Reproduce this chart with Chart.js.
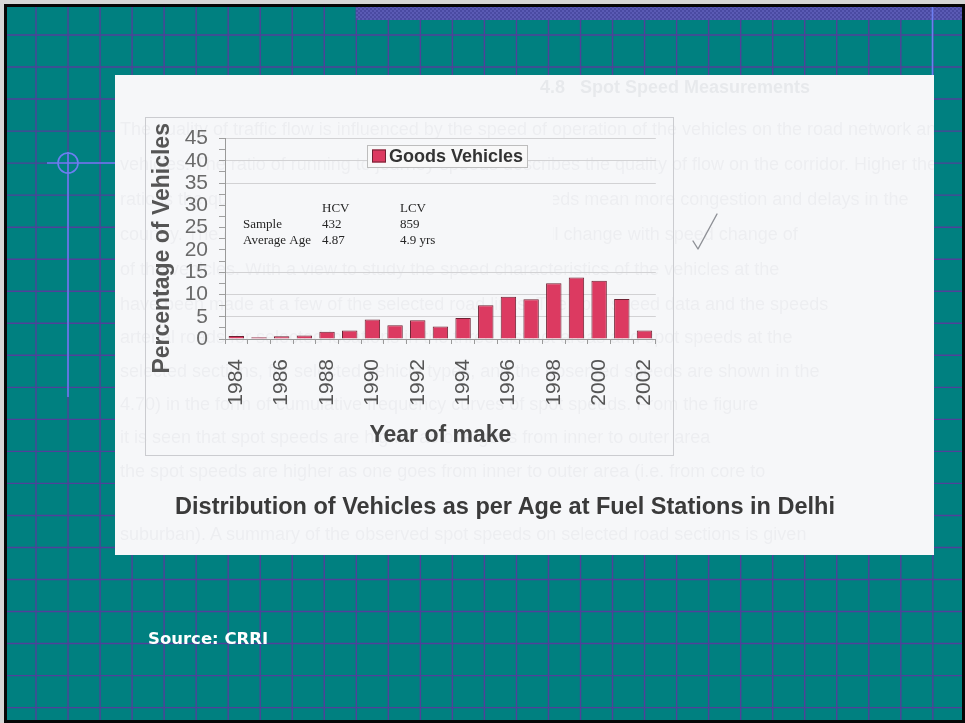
<!DOCTYPE html>
<html>
<head>
<meta charset="utf-8">
<title>Distribution of Vehicles as per Age at Fuel Stations in Delhi</title>
<script src="https://cdn.jsdelivr.net/npm/chart.js@4.4.1/dist/chart.umd.min.js"></script>
<style>
  html, body { margin: 0; padding: 0; }
  body { width: 965px; height: 723px; position: relative; overflow: hidden; background: #d6d6d6;
         font-family: "Liberation Sans", Arial, sans-serif; }
  #bg { position: absolute; left: 0; top: 0; }
  #sheet { position: absolute; left: 115px; top: 75px; width: 819px; height: 480px;
           background: #f6f7f9; overflow: hidden; }
  .ghost { position: absolute; left: 5px; white-space: nowrap; font-size: 18px;
           color: rgba(40, 50, 75, 0.045); filter: blur(0.6px); }
  .ghost.head { font-weight: bold; left: 425px; color: rgba(40, 50, 75, 0.07); }
  #plot { position: absolute; left: 25px; top: 37px; filter: blur(0.45px); }
  #tick { position: absolute; left: 570px; top: 128px; }
  #caption { position: absolute; left: 0; width: 780px; top: 418px; text-align: center;
             font-size: 23.5px; font-weight: bold; color: #3a3a3a; filter: blur(0.4px); }
  #source { position: absolute; left: 148px; top: 629px; color: #ffffff;
            font-family: "DejaVu Sans", sans-serif; font-weight: bold; font-size: 16.5px; }
</style>
</head>
<body>
<canvas id="bg" width="965" height="723"></canvas>
<div id="sheet">
  <div class="ghost head" style="top:2px">4.8&nbsp;&nbsp;&nbsp;Spot Speed Measurements</div>
  <div class="ghost" style="top:44px">The quality of traffic flow is influenced by the speed of operation of the vehicles on the road network and the</div>
  <div class="ghost" style="top:79px">vehicles. The ratio of running to journey speeds describes the quality of flow on the corridor. Higher the ratio</div>
  <div class="ghost" style="top:114px">ratio is the quality of flow. For urban roads, slower speeds mean more congestion and delays in the</div>
  <div class="ghost" style="top:149px">country. The quantum of pollution in the ambient air will change with speed change of</div>
  <div class="ghost" style="top:184px">of the vehicles. With a view to study the speed characteristics of the vehicles at the</div>
  <div class="ghost" style="top:219px">have been made at a few of the selected road links. The spot speed data and the speeds</div>
  <div class="ghost" style="top:252px">arterial roads for selected locations in the three distinct areas and spot speeds at the</div>
  <div class="ghost" style="top:286px">selected sections, for selected vehicle types, and the observed speeds are shown in the</div>
  <div class="ghost" style="top:319px">4.70) in the form of cumulative frequency curves of spot speeds. From the figure</div>
  <div class="ghost" style="top:352px">it is seen that spot speeds are higher as one goes from inner to outer area</div>
  <div class="ghost" style="top:386px">the spot speeds are higher as one goes from inner to outer area (i.e. from core to</div>
  <div class="ghost" style="top:449px">suburban). A summary of the observed spot speeds on selected road sections is given</div>
  <div id="plot"><canvas id="chart" width="545" height="348"></canvas></div>
  <svg id="tick" width="40" height="50" viewBox="0 0 40 50">
    <polyline points="8,38 13,46 32,11" fill="none" stroke="#8e9096" stroke-width="1.4"
              stroke-linecap="round" stroke-linejoin="round"/>
  </svg>
  <div id="caption">Distribution of Vehicles as per Age at Fuel Stations in Delhi</div>
</div>
<div id="source">Source: CRRI</div>

<script>
// ---- data ----
const years = ['1984', '1985', '1986', '1987', '1988', '1989', '1990', '1991', '1992', '1993',
               '1994', '1995', '1996', '1997', '1998', '1999', '2000', '2001', '2002'];
const goodsVehiclesPct = [0.7, 0.4, 0.6, 0.8, 1.6, 1.9, 4.4, 3.1, 4.2, 2.8,
                          4.7, 7.6, 9.5, 8.9, 12.5, 13.8, 13.1, 9.0, 1.9];
const yTickValues = [0, 5, 10, 15, 20, 25, 30, 35, 40, 45];
const statColumns = ['HCV', 'LCV'];
const statSample = ['432', '859'];
const statAverageAge = ['4.87', '4.9 yrs'];

// ---- slide background: teal sheet with a purple grid ----
(function drawBackground() {
  const c = document.getElementById('bg');
  const g = c.getContext('2d');
  g.fillStyle = '#d6d6d6'; g.fillRect(0, 0, 965, 723);
  g.fillStyle = '#060606'; g.fillRect(4, 4, 961, 719);
  g.fillStyle = '#008080'; g.fillRect(7, 7, 955, 713);

  g.strokeStyle = '#51409a'; g.lineWidth = 1.4;
  for (let k = 0; k <= 28; k++) {
    const x = 36 + k * 32.03;
    g.beginPath(); g.moveTo(x, 7); g.lineTo(x, 720); g.stroke();
  }
  for (let k = 0; k <= 21; k++) {
    const y = 35 + k * 32.03;
    g.beginPath(); g.moveTo(7, y); g.lineTo(962, y); g.stroke();
  }

  // dotted band across the top right
  const p = document.createElement('canvas'); p.width = 4; p.height = 4;
  const pg = p.getContext('2d');
  pg.fillStyle = '#4a4aa2'; pg.fillRect(0, 0, 4, 4);
  pg.fillStyle = '#5a5ab4'; pg.fillRect(0, 0, 2, 2); pg.fillRect(2, 2, 2, 2);
  g.fillStyle = g.createPattern(p, 'repeat');
  g.fillRect(356, 7, 606, 13);

  // crosshair marker and guide lines
  g.strokeStyle = '#6c7ef2'; g.lineWidth = 1.6;
  g.beginPath(); g.arc(68, 163, 10, 0, Math.PI * 2); g.stroke();
  g.beginPath(); g.moveTo(47, 163); g.lineTo(116, 163); g.stroke();
  g.beginPath(); g.moveTo(68, 152); g.lineTo(68, 397); g.stroke();
  g.beginPath(); g.moveTo(932.5, 7); g.lineTo(932.5, 76); g.stroke();
})();

// ---- chart ----
const hiddenGrid = new Set([20, 25, 30]);
const axisFont = '"Liberation Sans", Arial, sans-serif';

const panelPlugin = {
  id: 'panelPlugin',
  beforeDraw(chart) {
    const { ctx } = chart;
    ctx.save();
    ctx.strokeStyle = '#cbccd0';
    ctx.lineWidth = 1;
    ctx.strokeRect(5.5, 5.5, 528, 338);
    ctx.restore();
  },
  beforeDatasetsDraw(chart) {
    // box holding the sample statistics sits over the grid
    const { ctx, chartArea, scales: { y } } = chart;
    const top = y.getPixelForValue(33);
    const bottom = y.getPixelForValue(17);
    ctx.save();
    ctx.fillStyle = '#f6f7f9';
    ctx.fillRect(chartArea.left + 1, top, 327, bottom - top);
    ctx.restore();
  },
  afterDatasetsDraw(chart) {
    const { ctx, chartArea } = chart;
    const x0 = chartArea.left + 18, x1 = chartArea.left + 97, x2 = chartArea.left + 175;
    const b0 = chartArea.top + 73.5;
    ctx.save();
    ctx.fillStyle = '#262626';
    ctx.font = '13px "Liberation Serif", "Times New Roman", serif';
    ctx.textBaseline = 'alphabetic';
    ctx.fillText(statColumns[0], x1, b0);
    ctx.fillText(statColumns[1], x2, b0);
    ctx.fillText('Sample', x0, b0 + 16);
    ctx.fillText(statSample[0], x1, b0 + 16);
    ctx.fillText(statSample[1], x2, b0 + 16);
    ctx.fillText('Average Age', x0, b0 + 32);
    ctx.fillText(statAverageAge[0], x1, b0 + 32);
    ctx.fillText(statAverageAge[1], x2, b0 + 32);
    ctx.restore();
  },
  afterDraw(chart) {
    // boxed legend inside the plot
    const { ctx, chartArea } = chart;
    const ds = chart.data.datasets[0];
    const bx = chartArea.left + 142, by = chartArea.top + 6.5, bw = 160, bh = 22;
    ctx.save();
    ctx.fillStyle = '#f8f8f8';
    ctx.fillRect(bx, by, bw, bh);
    ctx.strokeStyle = '#bdbdbd';
    ctx.lineWidth = 1;
    ctx.strokeRect(bx + 0.5, by + 0.5, bw, bh);
    ctx.fillStyle = ds.backgroundColor;
    ctx.fillRect(bx + 5, by + 4.5, 14, 13);
    ctx.strokeStyle = ds.borderColor;
    ctx.strokeRect(bx + 5.5, by + 5, 13, 12);
    ctx.fillStyle = '#333333';
    ctx.font = 'bold 18px ' + axisFont;
    ctx.textBaseline = 'middle';
    ctx.fillText(ds.label, bx + 22, by + bh / 2 + 1);
    ctx.restore();
  }
};

new Chart(document.getElementById('chart'), {
  type: 'bar',
  data: {
    labels: years,
    datasets: [{
      label: 'Goods Vehicles',
      data: goodsVehiclesPct,
      backgroundColor: '#dc3a61',
      borderColor: '#6e2233',
      borderWidth: 1,
      categoryPercentage: 1,
      barPercentage: 0.68
    }]
  },
  options: {
    responsive: false,
    animation: false,
    layout: { padding: { left: 0, top: 26.5, right: 12, bottom: 8 } },
    plugins: { legend: { display: false }, tooltip: { enabled: false } },
    scales: {
      x: {
        offset: true,
        grid: { offset: true, drawOnChartArea: false, drawTicks: true, tickLength: 5, color: '#9a9a9a' },
        border: { color: '#9a9a9a', width: 1 },
        ticks: {
          autoSkip: false, minRotation: 90, maxRotation: 90, padding: 15,
          color: '#555555', font: { size: 21, family: axisFont },
          callback: (v, i) => (i % 2 === 0 ? years[i] : '')
        },
        title: {
          display: true, text: 'Year of make', color: '#444444',
          font: { size: 23, weight: 'bold', family: axisFont },
          padding: { top: 0, bottom: 3 }
        },
        afterFit(s) { s.height = 113; }
      },
      y: {
        min: 0, max: 45,
        grid: {
          drawTicks: true, tickLength: 6,
          color: (c) => (c.tick && c.tick.value % 5 === 0 && !hiddenGrid.has(c.tick.value) && c.tick.value !== 0
                         ? '#d2d2d4' : 'rgba(0,0,0,0)'),
          tickColor: '#a0a0a0'
        },
        border: { color: '#9a9a9a', width: 1 },
        ticks: {
          stepSize: 2.5, autoSkip: false, padding: 11,
          color: '#6a6a6a', font: { size: 21, family: axisFont },
          callback: (v) => (yTickValues.includes(v) ? String(v) : '')
        },
        title: {
          display: true, text: 'Percentage of Vehicles\u00a0\u00a0\u00a0', color: '#555555',
          font: { size: 23, weight: 'bold', family: axisFont },
          padding: { top: 8.5, bottom: 0 }
        },
        afterFit(s) { s.width = 85; }
      }
    }
  },
  plugins: [panelPlugin]
});
</script>
</body>
</html>
